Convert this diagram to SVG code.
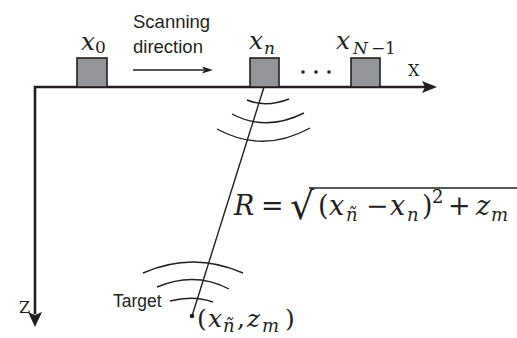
<svg xmlns="http://www.w3.org/2000/svg" width="517" height="338" viewBox="0 0 517 338">
<style>
.ln{fill:none;stroke:#231f20;stroke-width:1.4}
.ax{fill:none;stroke:#231f20;stroke-width:2.6}
.box{fill:#939598;stroke:#231f20;stroke-width:1.6}
.hd{fill:#231f20;stroke:none}
.m{font-family:"DejaVu Serif","Liberation Serif",serif;fill:#231f20}
.i{font-style:italic}
.s{font-family:"Liberation Sans",Arial,sans-serif;fill:#231f20}
</style>
<rect width="517" height="338" fill="#ffffff"/>
<g id="axes">
<path class="ax" d="M35,314 L35,87 L426,87"/>
<polygon class="hd" points="437,87 422,81 425,87 422,93"/>
<polygon class="hd" points="35,327 28,312 35,315 42,312"/>
<text class="m" x="408" y="76" font-size="16">X</text>
<text class="m" x="19" y="313" font-size="16">Z</text>
</g>
<g id="scan">
<text class="s" x="133" y="28" font-size="18.5">Scanning</text>
<text class="s" x="133" y="53" font-size="18.5">direction</text>
<line class="ln" x1="133" y1="70" x2="204" y2="70"/>
<polygon class="hd" points="213,70 202,66.5 204.5,70 202,73.5"/>
</g>
<g id="x0">
<rect class="box" x="77" y="58" width="30" height="29"/>
<text class="m" font-size="25"><tspan class="i" x="81" y="50">x</tspan><tspan x="95" y="53" font-size="17">0</tspan></text>
</g>
<g id="xn">
<rect class="box" x="250" y="58" width="29" height="29"/>
<text class="m" font-size="25"><tspan class="i" x="249" y="49">x</tspan><tspan class="i" x="264" y="54" font-size="17">n</tspan></text>
</g>
<g id="dots">
<circle cx="303" cy="72" r="1.8" class="hd"/>
<circle cx="316" cy="72" r="1.8" class="hd"/>
<circle cx="329" cy="72" r="1.8" class="hd"/>
</g>
<g id="xN1">
<rect class="box" x="351" y="58" width="29" height="29"/>
<text class="m" font-size="25"><tspan class="i" x="336" y="49">x</tspan><tspan class="i" x="353" y="54" font-size="17">N</tspan><tspan x="371" y="54" font-size="17">−</tspan><tspan x="385" y="54" font-size="17">1</tspan></text>
</g>
<g id="target">
<circle cx="192" cy="316" r="2.3" class="hd"/>
<text class="s" x="113" y="307" font-size="17.5">Target</text>
<text class="m" font-size="25"><tspan x="197" y="327">(</tspan><tspan class="i" x="208" y="327">x</tspan><tspan class="i" x="223" y="332" font-size="18">ñ</tspan><tspan x="237" y="327">,</tspan><tspan class="i" x="247" y="327">z</tspan><tspan class="i" x="262" y="332" font-size="18">m</tspan><tspan x="285" y="327">)</tspan></text>
</g>
<g id="connectors">
<line class="ln" x1="264" y1="87" x2="192" y2="316"/>
<path class="ln" d="M247,100 Q266,108 289,99"/>
<path class="ln" d="M232,114 Q266,132 304,113"/>
<path class="ln" d="M217,129 Q263,154 310,128"/>
<path class="ln" d="M143,273 Q193,251 243,273"/>
<path class="ln" d="M157,287 Q195,271 229,289"/>
<path class="ln" d="M170,301 Q193,295 213,302"/>
</g>
<g id="formula">
<text class="m" font-size="27"><tspan class="i" x="234" y="215">R</tspan><tspan x="261" y="215">=</tspan><tspan x="290" y="219" font-size="38">√</tspan><tspan x="318" y="215">(</tspan><tspan class="i" x="329" y="215">x</tspan><tspan class="i" x="346" y="221" font-size="18">ñ</tspan><tspan x="366" y="215">−</tspan><tspan class="i" x="390" y="215">x</tspan><tspan class="i" x="407" y="221" font-size="18">n</tspan><tspan x="422" y="215">)</tspan><tspan x="432" y="203" font-size="18">2</tspan><tspan x="448" y="215">+</tspan><tspan class="i" x="476" y="215">z</tspan><tspan class="i" x="491" y="221" font-size="18">m</tspan></text>
<line class="ln" x1="309" y1="188" x2="517" y2="188" stroke-width="1.6"/>
</g>
</svg>
